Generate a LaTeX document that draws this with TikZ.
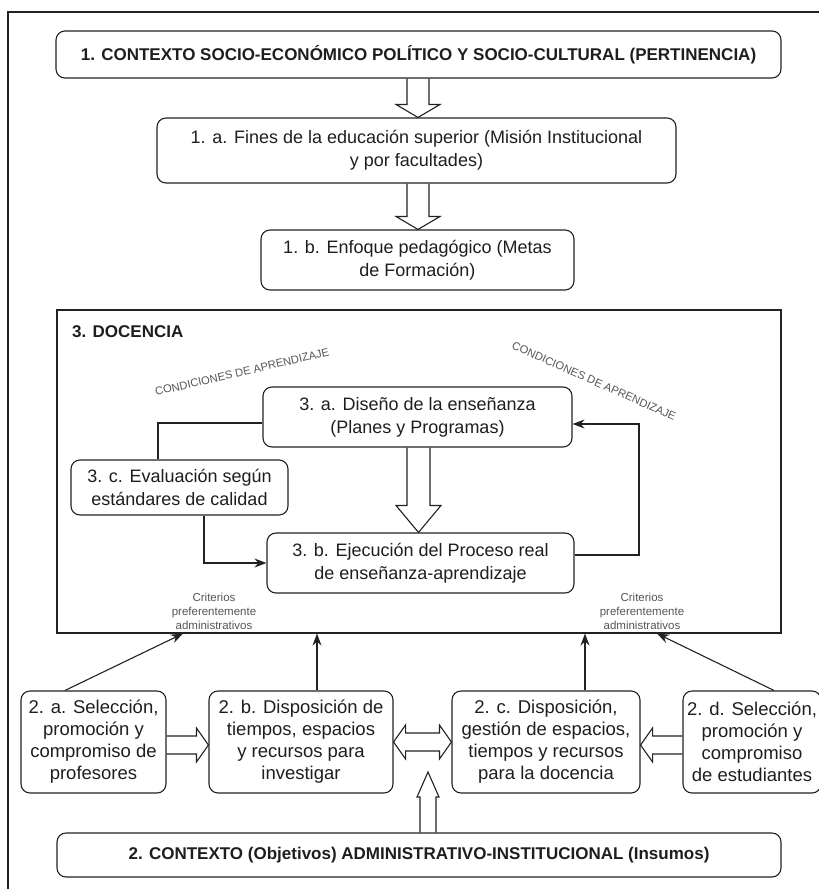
\documentclass[tikz,border=0pt]{standalone}
\usepackage{fontspec}
\setmainfont{Liberation Sans}
\usetikzlibrary{calc,arrows.meta}
\definecolor{ln}{HTML}{222222}
\definecolor{tx}{HTML}{1E1E1E}
\definecolor{lt}{HTML}{555555}
% hollow block arrows: {start}{tip}{half shaft}{half head}{head length}
\newcommand\hdown[5]{\draw[hol] let \p1=(#1), \p2=(#2) in
  (\x1-#3,\y1) -- (\x1-#3,\y2+#5) -- (\x1-#4,\y2+#5) -- (\x1,\y2) -- (\x1+#4,\y2+#5) -- (\x1+#3,\y2+#5) -- (\x1+#3,\y1);}
\newcommand\hup[5]{\draw[hol] let \p1=(#1), \p2=(#2) in
  (\x1-#3,\y1) -- (\x1-#3,\y2-#5) -- (\x1-#4,\y2-#5) -- (\x1,\y2) -- (\x1+#4,\y2-#5) -- (\x1+#3,\y2-#5) -- (\x1+#3,\y1);}
\newcommand\hright[5]{\draw[hol] let \p1=(#1), \p2=(#2) in
  (\x1,\y1+#3) -- (\x2-#5,\y1+#3) -- (\x2-#5,\y1+#4) -- (\x2,\y1) -- (\x2-#5,\y1-#4) -- (\x2-#5,\y1-#3) -- (\x1,\y1-#3);}
\newcommand\hleft[5]{\draw[hol] let \p1=(#1), \p2=(#2) in
  (\x1,\y1+#3) -- (\x2+#5,\y1+#3) -- (\x2+#5,\y1+#4) -- (\x2,\y1) -- (\x2+#5,\y1-#4) -- (\x2+#5,\y1-#3) -- (\x1,\y1-#3);}
\newcommand\hboth[5]{\draw[hol] let \p1=(#1), \p2=(#2) in
  (\x1,\y1) -- (\x1+#5,\y1+#4) -- (\x1+#5,\y1+#3) -- (\x2-#5,\y1+#3) -- (\x2-#5,\y1+#4) -- (\x2,\y1)
  -- (\x2-#5,\y1-#4) -- (\x2-#5,\y1-#3) -- (\x1+#5,\y1-#3) -- (\x1+#5,\y1-#4) -- cycle;}
\begin{document}
\begin{tikzpicture}[x=1pt,y=-1pt,
  box/.style={draw=ln, line width=1.1pt, rounded corners=9pt, align=center, inner sep=0pt,
    text=tx, font=\fontsize{18}{23}\selectfont},
  lowbox/.style={box, minimum width=#1, minimum height=102pt, font=\fontsize{18.5}{22}\selectfont},
  hd/.style={font=\fontsize{17}{20}\selectfont\bfseries},
  conn/.style={draw=ln, line width=1.1pt},
  arr/.style={conn, -{Stealth[length=12pt,width=9pt]}},
  hol/.style={draw=ln, line width=1.1pt, line join=miter},
  small/.style={text=lt, font=\fontsize{11.5}{14}\selectfont, align=center, inner sep=0pt},
  cond/.style={text=lt, font=\fontsize{11.2}{13}\selectfont, inner sep=0pt}
]
\useasboundingbox (0,0) rectangle (819,889);
\draw[conn] (8,889) -- (8,12) -- (819,12);

% level 1
\node[box, hd, minimum width=725pt, minimum height=47pt] (top) at (418.5,54.5)
  {1. CONTEXTO SOCIO-ECONÓMICO POLÍTICO Y SOCIO-CULTURAL (PERTINENCIA)};
\node[box, minimum width=519pt, minimum height=65pt] (fa) at (416.5,150.5)
  {1. a. Fines de la educación superior (Misión Institucional\\ y por facultades)};
\node[box, minimum width=313pt, minimum height=60pt] (fb) at (417.5,260)
  {1. b. Enfoque pedagógico (Metas\\ de Formación)};
\coordinate (a1s) at (top.south -| 418,0);
\coordinate (a1t) at (fa.north -| 418,0);
\coordinate (a2s) at (fa.south -| 418,0);
\coordinate (a2t) at (fb.north -| 418,0);
\hdown{a1s}{a1t}{11pt}{22pt}{13pt}
\hdown{a2s}{a2t}{11pt}{22pt}{13pt}

% docencia
\node[draw=ln, line width=1.1pt, minimum width=724pt, minimum height=323pt, inner sep=0pt] (doc) at (419,471.5) {};
\node[hd, text=tx, anchor=west, inner sep=0pt] (doct) at (72,332) {3. DOCENCIA};
\node[cond, rotate=13] (condl) at (242,372) {CONDICIONES DE APRENDIZAJE};
\node[cond, rotate=-24] (condr) at (594,381) {CONDICIONES DE APRENDIZAJE};

\node[box, minimum width=309pt, minimum height=60pt] (t3a) at (417.5,417)
  {3. a. Diseño de la enseñanza\\ (Planes y Programas)};
\node[box, minimum width=217pt, minimum height=55pt] (t3c) at (179.5,487.5)
  {3. c. Evaluación según\\ estándares de calidad};
\node[box, minimum width=307pt, minimum height=60pt] (t3b) at (420.5,563)
  {3. b. Ejecución del Proceso real\\ de enseñanza-aprendizaje};

\coordinate (a3s) at (t3a.south -| 418.5,0);
\coordinate (a3t) at (t3b.north -| 418.5,0);
\hdown{a3s}{a3t}{11.5pt}{22.5pt}{27pt}

\coordinate (fl1) at (t3a.west |- 0,423);
\coordinate (fl2) at (t3c.north -| 158,0);
\draw[conn] (fl1) -| (fl2);
\coordinate (fl3) at (t3c.south -| 204,0);
\draw[arr] (fl3) |- (t3b.west);
\coordinate (fl4) at (t3b.east |- 0,555);
\coordinate (fl5) at (t3a.east |- 0,424);
\draw[arr] (fl4) -- (639,555) |- (fl5);

\node[small] (crl) at (214,611) {Criterios\\ preferentemente\\ administrativos};
\node[small] (crr) at (642,611) {Criterios\\ preferentemente\\ administrativos};

% level 2
\node[lowbox=145pt] (b2a) at (93.5,742)
  {2. a. Selección,\\ promoción y\\ compromiso de\\ profesores};
\node[lowbox=184pt] (b2b) at (301,742)
  {2. b. Disposición de\\ tiempos, espacios\\ y recursos para\\ investigar};
\node[lowbox=188pt] (b2c) at (546,742)
  {2. c. Disposición,\\ gestión de espacios,\\ tiempos y recursos\\ para la docencia};
\node[lowbox=138pt] (b2d) at (752,742)
  {2. d. Selección,\\ promoción y\\ compromiso\\ de estudiantes};
\node[box, hd, minimum width=724pt, minimum height=44pt] (bot) at (419,855)
  {2. CONTEXTO (Objetivos) ADMINISTRATIVO-INSTITUCIONAL (Insumos)};

\coordinate (s2a) at (b2a.north -| 65,0);
\coordinate (e2a) at (doc.south -| 183,0);
\coordinate (s2b) at (b2b.north -| 317,0);
\coordinate (e2b) at (doc.south -| 317,0);
\coordinate (s2c) at (b2c.north -| 585,0);
\coordinate (e2c) at (doc.south -| 585,0);
\coordinate (s2d) at (b2d.north -| 774,0);
\coordinate (e2d) at (doc.south -| 657,0);
\draw[arr] (s2a) -- (e2a);
\draw[arr] (s2b) -- (e2b);
\draw[arr] (s2c) -- (e2c);
\draw[arr] (s2d) -- (e2d);

\coordinate (h1) at ($(b2a.east)+(0,3)$);
\coordinate (h2) at ($(b2b.west)+(0,3)$);
\coordinate (h3) at ($(b2b.east)+(0,0)$);
\coordinate (h4) at ($(b2c.west)+(0,0)$);
\coordinate (h5) at ($(b2d.west)+(0,3)$);
\coordinate (h6) at ($(b2c.east)+(0,3)$);
\hright{h1}{h2}{9pt}{17pt}{12pt}
\hboth{h3}{h4}{9pt}{17pt}{12pt}
\hleft{h5}{h6}{9pt}{17pt}{12pt}

\coordinate (upb) at (bot.north -| 428,0);
\coordinate (upt) at (428,772);
\hup{upb}{upt}{8pt}{11pt}{25pt}
\end{tikzpicture}
\end{document}
